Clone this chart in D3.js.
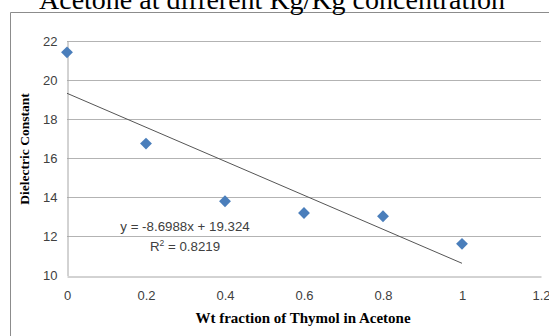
<!DOCTYPE html>
<html><head><meta charset="utf-8">
<script src="https://cdn.jsdelivr.net/npm/d3@7"></script>
<style>body{margin:0;background:#fff;}svg{display:block;}</style>
</head><body>
<svg id="c" width="549" height="336"></svg>
<script>
const xValues = [0, 0.2, 0.4, 0.6, 0.8, 1];
const yValues = [21.42, 16.75, 13.8, 13.2, 13.03, 11.62];
const xTicks = [0, 0.2, 0.4, 0.6, 0.8, 1, 1.2];
const yTicks = [10, 12, 14, 16, 18, 20, 22];
const trendSlope = -8.6988;
const trendIntercept = 19.324;
const title = "Acetone at different Kg/Kg concentration";
const xTitle = "Wt fraction of Thymol in Acetone";
const yTitle = "Dielectric Constant";
const eqText = "y = -8.6988x + 19.324";
const r2Value = "0.8219";

const svg = d3.select("#c");
const W = 549, H = 336;
const m = {left: 67, right: 8, top: 41, bottom: 61};
const x = d3.scaleLinear().domain([0, 1.2]).range([m.left, 541]);
const y = d3.scaleLinear().domain([10, 22]).range([275.5, 41]);

// frame
svg.append("path").attr("d", `M10.5,${H} V12.5 H${W}`).attr("fill","none").attr("stroke","#8c8c8c").attr("stroke-width",1);

// title
svg.append("text").attr("x", 272).attr("y", 9).attr("text-anchor","middle")
  .attr("font-family","Liberation Serif, serif").attr("font-size", 28).attr("fill","#000").text(title);

// gridlines
svg.append("g").selectAll("line").data(yTicks.filter(t => t !== 10)).join("line")
  .attr("x1", m.left).attr("x2", 541).attr("y1", d => Math.round(y(d))+0.5).attr("y2", d => Math.round(y(d))+0.5)
  .attr("stroke","#b3b3b3").attr("stroke-width",1);

// axes
const yAxis = d3.axisLeft(y).tickValues(yTicks).tickSize(0).tickPadding(10).tickFormat(d3.format("d"));
const gy = svg.append("g").attr("transform", `translate(${m.left+0.5},0)`).call(yAxis);
const xAxis = d3.axisBottom(x).tickValues(xTicks).tickSize(0).tickPadding(14).tickFormat(d => d3.format("")(d));
const gx = svg.append("g").attr("transform", `translate(0,${Math.round(y(10))+0.5})`).call(xAxis);
[gx, gy].forEach(g => {
  g.select(".domain").attr("stroke","#a6a6a6");
  g.selectAll("text").attr("font-family","Liberation Sans, Arial, sans-serif").attr("font-size", 13).attr("fill","#404040");
});

// trendline
svg.append("line")
  .attr("x1", x(0)).attr("y1", y(trendIntercept))
  .attr("x2", x(1)).attr("y2", y(trendIntercept + trendSlope))
  .attr("stroke","#555").attr("stroke-width",1);

// points
svg.append("g").selectAll("path").data(xValues.map((v,i)=>[v, yValues[i]])).join("path")
  .attr("d", d3.symbol().type(d3.symbolSquare).size(70))
  .attr("transform", d => `translate(${x(d[0])},${y(d[1])}) rotate(45)`)
  .attr("fill","#4a7ebb");

// equation
svg.append("text").attr("x", 185).attr("y", 231).attr("text-anchor","middle")
  .attr("font-family","Liberation Sans, Arial, sans-serif").attr("font-size", 13.3).attr("fill","#404040").text(eqText);
const r2 = svg.append("text").attr("x", 185).attr("y", 251).attr("text-anchor","middle")
  .attr("font-family","Liberation Sans, Arial, sans-serif").attr("font-size", 13.3).attr("fill","#404040");
r2.append("tspan").text("R");
r2.append("tspan").attr("font-size", 8.5).attr("dy", -5).text("2");
r2.append("tspan").attr("dy", 5).text(" = " + r2Value);

// axis titles
svg.append("text").attr("x", 303).attr("y", 323).attr("text-anchor","middle")
  .attr("font-family","Liberation Serif, serif").attr("font-weight","bold").attr("font-size", 15).attr("fill","#000").text(xTitle);
svg.append("text").attr("transform","translate(29,149) rotate(-90)").attr("text-anchor","middle")
  .attr("font-family","Liberation Serif, serif").attr("font-weight","bold").attr("font-size", 13.5).attr("fill","#000").text(yTitle);
</script>
</body></html>
